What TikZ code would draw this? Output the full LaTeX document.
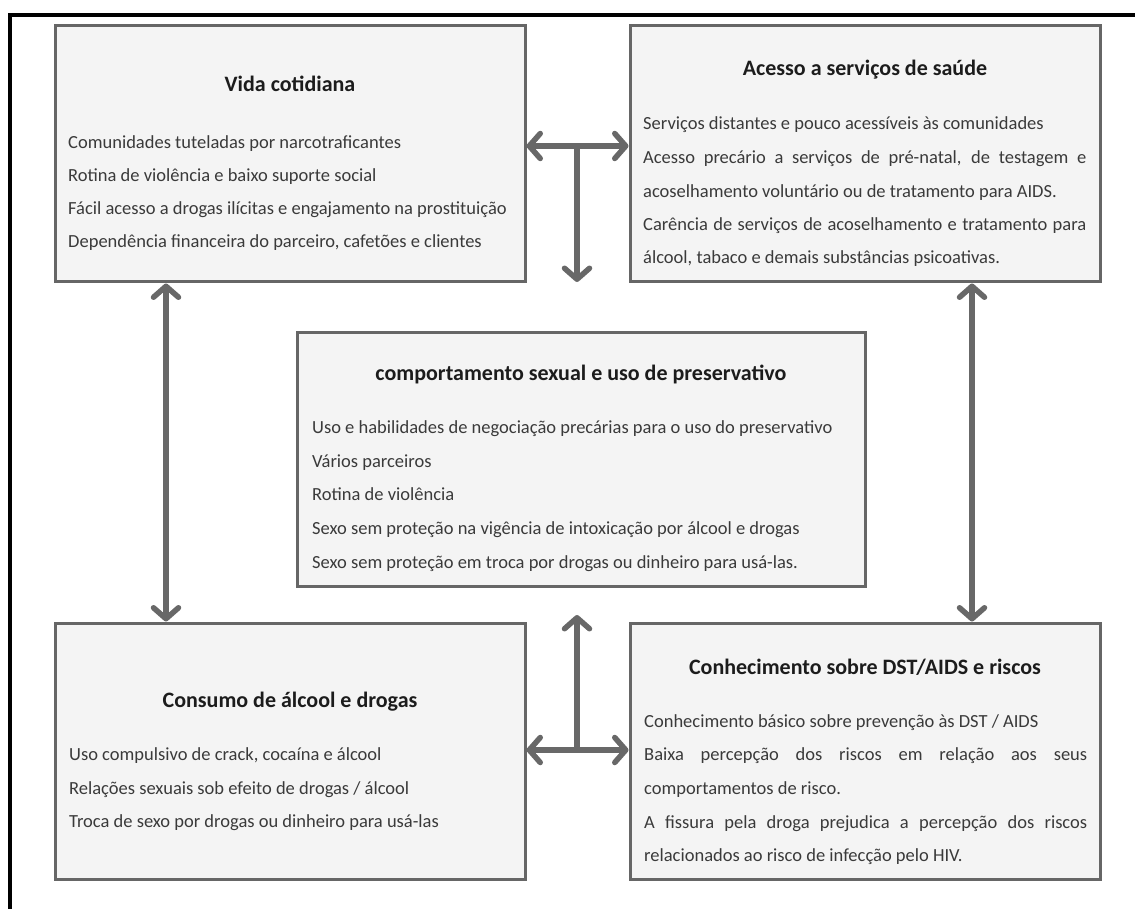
\documentclass[tikz,border=0pt]{standalone}
\usepackage{fontspec}
\setmainfont{Carlito}
\usetikzlibrary{arrows.meta}

\definecolor{boxfill}{HTML}{F4F4F4}
\definecolor{boxline}{HTML}{666666}
\definecolor{arrowgray}{HTML}{686868}
\definecolor{bodytext}{HTML}{3A3A3A}
\definecolor{headtext}{HTML}{1C1C1C}

\newcommand{\jline}[1]{\makebox[443pt][s]{#1}}

\begin{document}
\begin{tikzpicture}[x=1pt,y=-1pt,
  panel/.style={rectangle, draw=boxline, line width=3pt, fill=boxfill,
                inner sep=0pt, minimum width=470pt, minimum height=256pt},
  head/.style={anchor=base, inner sep=0pt, text=headtext,
               font=\fontsize{22}{26}\selectfont\bfseries},
  item/.style={anchor=base west, inner sep=0pt, text=bodytext,
               font=\fontsize{18.5}{22}\selectfont},
  barb/.tip={Straight Barb[length=11pt,width=25pt,round]},
  link/.style={draw=arrowgray, line width=5.5pt},
  twoway/.style={link, {barb}-{barb}},
  oneway/.style={link, -{barb}}
]
\useasboundingbox (0,0) rectangle (1135,909);

% outer frame (top and left edges)
\draw[line width=4pt] (9.5,909) -- (9.5,15) -- (1135,15);

% panels
\node[panel] (vida)    at (290,154) {};
\node[panel] (acesso)  at (865,154) {};
\node[panel, minimum width=568pt, minimum height=254pt] (comport) at (581,459) {};
\node[panel] (consumo) at (290,751) {};
\node[panel] (conhec)  at (865,751) {};

% Vida cotidiana
\node[head] (t1) at (290,92) {Vida cotidiana};
\node[item] (v1) at (68,149) {Comunidades tuteladas por narcotraficantes};
\node[item] (v2) at (68,182) {Rotina de violência e baixo suporte social};
\node[item] (v3) at (68,215) {Fácil acesso a drogas ilícitas e engajamento na prostituição};
\node[item] (v4) at (68,248) {Dependência financeira do parceiro, cafetões e clientes};

% Acesso a servicos de saude
\node[head] (t2) at (865,76) {Acesso a serviços de saúde};
\node[item] (a1) at (643,130) {Serviços distantes e pouco acessíveis às comunidades};
\node[item] (a2) at (643,164) {\jline{Acesso precário a serviços de pré-natal, de testagem e}};
\node[item] (a3) at (643,198) {acoselhamento voluntário ou de tratamento para AIDS.};
\node[item] (a4) at (643,231) {\jline{Carência de serviços de acoselhamento e tratamento para}};
\node[item] (a5) at (643,264) {álcool, tabaco e demais substâncias psicoativas.};

% comportamento sexual
\node[head] (t3) at (581,380) {comportamento sexual e uso de preservativo};
\node[item] (c1) at (312,433) {Uso e habilidades de negociação precárias para o uso do preservativo};
\node[item] (c2) at (312,467) {Vários parceiros};
\node[item] (c3) at (312,500) {Rotina de violência};
\node[item] (c4) at (312,534) {Sexo sem proteção na vigência de intoxicação por álcool e drogas};
\node[item] (c5) at (312,568) {Sexo sem proteção em troca por drogas ou dinheiro para usá-las.};

% Consumo de alcool e drogas
\node[head] (t4) at (290,707) {Consumo de álcool e drogas};
\node[item] (d1) at (69,760) {Uso compulsivo de crack, cocaína e álcool};
\node[item] (d2) at (69,794) {Relações sexuais sob efeito de drogas / álcool};
\node[item] (d3) at (69,827) {Troca de sexo por drogas ou dinheiro para usá-las};

% Conhecimento sobre DST/AIDS
\node[head] (t5) at (865,674) {Conhecimento sobre DST/AIDS e riscos};
\node[item] (k1) at (644,727) {Conhecimento básico sobre prevenção às DST / AIDS};
\node[item] (k2) at (644,760) {\jline{Baixa percepção dos riscos em relação aos seus}};
\node[item] (k3) at (644,794) {comportamentos de risco.};
\node[item] (k4) at (644,828) {\jline{A fissura pela droga prejudica a percepção dos riscos}};
\node[item] (k5) at (644,861) {relacionados ao risco de infecção pelo HIV.};

% junction points and free ends of the connectors
\coordinate (topT)    at (577,146);
\coordinate (topTend) at (577,282);
\coordinate (botT)    at (577,750);
\coordinate (botTend) at (577,615);
\coordinate (leftx)   at (166,0);
\coordinate (rightx)  at (972,0);

% connectors
\draw[twoway] (vida.east |- topT) -- (acesso.west |- topT);
\draw[oneway] (topT) -- (topTend);
\draw[twoway] (consumo.east |- botT) -- (conhec.west |- botT);
\draw[oneway] (botT) -- (botTend);
\draw[twoway] (vida.south -| leftx) -- (consumo.north -| leftx);
\draw[twoway] (acesso.south -| rightx) -- (conhec.north -| rightx);
\end{tikzpicture}
\end{document}
